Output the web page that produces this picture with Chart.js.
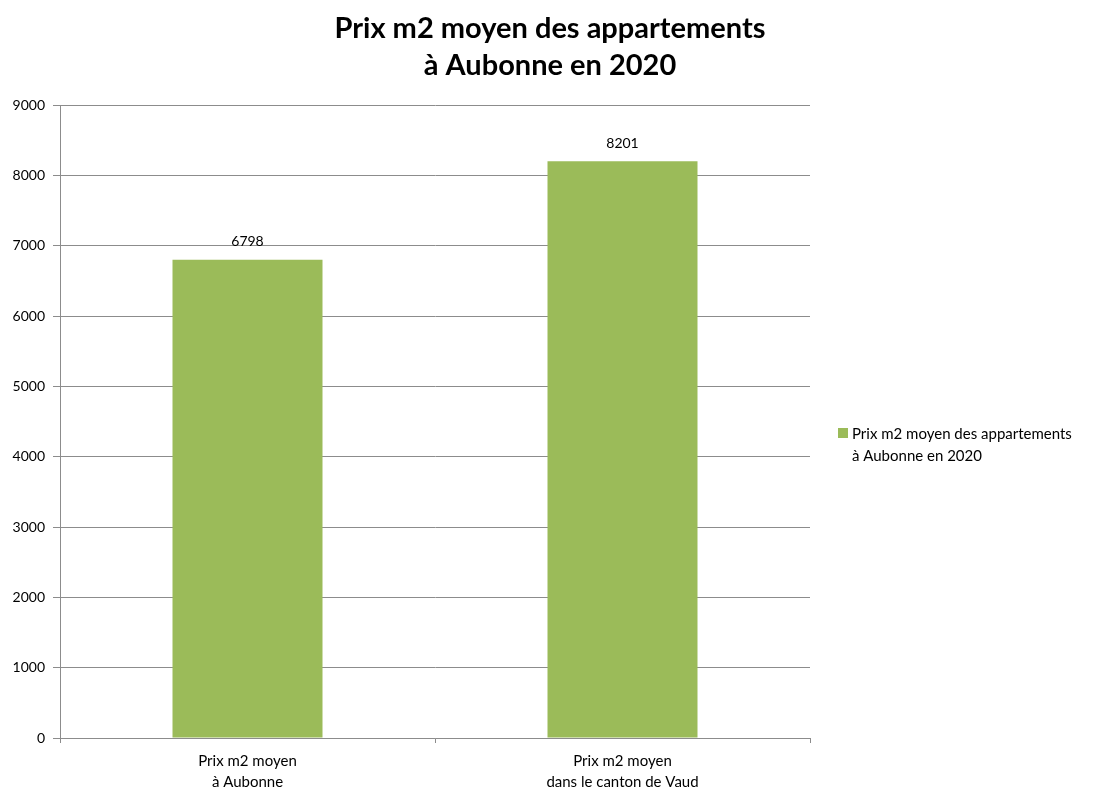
<!DOCTYPE html>
<html>
<head>
<meta charset="utf-8">
<script src="https://cdn.jsdelivr.net/npm/chart.js@4"></script>
<style>
  html, body { margin: 0; padding: 0; background: #fff; }
  #wrap { width: 1102px; height: 798px; }
</style>
</head>
<body>
<div id="wrap"><canvas id="myChart" width="1102" height="798"></canvas></div>
<script>
// data
const categories = [['Prix m2 moyen', 'à Aubonne'], ['Prix m2 moyen', 'dans le canton de Vaud']];
const prixValues = [6798, 8201];
const seriesLabel = ['Prix m2 moyen des appartements', 'à Aubonne en 2020'];
const titleLines = ['Prix m2 moyen des appartements', 'à Aubonne en 2020'];

const FONT = 'Lato, "Open Sans", sans-serif';
const GREEN = '#9bbb59';

// title, value labels and legend drawn by hand
const extras = {
    id: 'extras',
    afterDraw(chart) {
        const c = chart.ctx;
        c.save();
        c.fillStyle = '#000';
        c.textAlign = 'center';
        c.textBaseline = 'middle';
        c.font = 'bold 29px ' + FONT;
        c.fillText(titleLines[0], 550, 29);
        c.fillText(titleLines[1], 550, 66);

        // value labels
        c.font = '14px ' + FONT;
        const meta = chart.getDatasetMeta(0);
        meta.data.forEach((bar, i) => {
            c.fillText(String(prixValues[i]), bar.x, bar.y - 18);
        });

        // legend
        c.fillStyle = GREEN;
        c.fillRect(838, 428, 10, 10);
        c.fillStyle = '#000';
        c.textAlign = 'left';
        c.font = '15px ' + FONT;
        c.fillText(seriesLabel[0], 852, 434);
        c.fillText(seriesLabel[1], 852, 456);
        c.restore();
    }
};

var ctx = document.getElementById('myChart').getContext('2d');
var myChart = new Chart(ctx, {
    type: 'bar',
    data: {
        labels: categories,
        datasets: [{
            label: seriesLabel.join(' '),
            data: prixValues,
            backgroundColor: GREEN,
            borderWidth: 0,
            barPercentage: 0.4,
            categoryPercentage: 1.0
        }]
    },
    options: {
        responsive: false,
        animation: false,
        layout: { padding: { left: 0, right: 292, top: 105, bottom: 0 } },
        plugins: {
            legend: { display: false },
            title: { display: false },
            tooltip: { enabled: false }
        },
        scales: {
            y: {
                min: 0,
                max: 9000,
                ticks: {
                    stepSize: 1000,
                    color: '#000',
                    font: { family: FONT, size: 14 },
                    padding: 8,
                    callback: v => String(v)
                },
                grid: { color: '#8c8c8c', tickLength: 7, tickColor: '#8c8c8c' },
                border: { color: '#8c8c8c' },
                afterFit(scale) { scale.width = 60; }
            },
            x: {
                ticks: {
                    color: '#000',
                    font: { family: FONT, size: 15, lineHeight: 1.4 },
                    padding: 8
                },
                grid: { offset: true, drawOnChartArea: false, tickLength: 5, color: '#8c8c8c' },
                border: { color: '#8c8c8c' },
                afterFit(scale) { scale.height = 60; }
            }
        }
    },
    plugins: [extras]
});
</script>
</body>
</html>
